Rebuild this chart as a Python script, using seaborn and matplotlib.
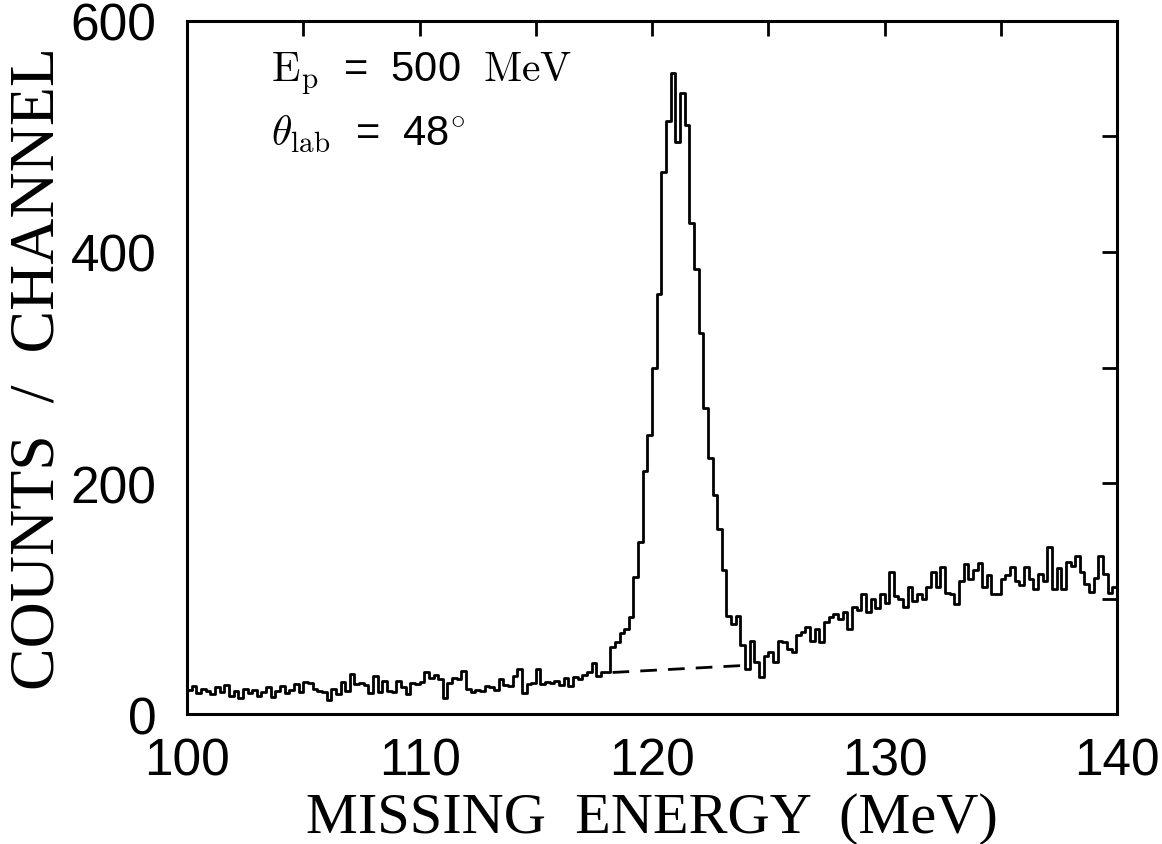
import numpy as np
import pandas as pd
import matplotlib
matplotlib.use("Agg")
import matplotlib.pyplot as plt
import seaborn as sns

# ---- data: counts per 0.2 MeV channel, 100-140 MeV ----
bin_start = 100.0
bin_width = 0.2
counts = [
    21, 24, 18, 22, 20,   # 100
    17, 23, 19, 25, 16,   # 101
    20, 14, 22, 18, 21,   # 102
    16, 19, 23, 15, 20,   # 103
    24, 18, 21, 26, 19,   # 104
    28, 27, 22, 20, 19,   # 105
    12, 22, 17, 28, 20,   # 106
    35, 26, 27, 25, 18,   # 107
    33, 19, 29, 20, 19,   # 108
    29, 23, 17, 27, 26,   # 109
    28, 36, 31, 34, 30,   # 110
    14, 27, 31, 30, 37,   # 111
    22, 19, 21, 20, 24,   # 112
    23, 21, 30, 25, 24,   # 113
    33, 39, 18, 26, 27,   # 114
    39, 26, 28, 27, 29,   # 115
    25, 31, 24, 32, 30,   # 116
    34, 36, 44, 33, 36,   # 117
    36, 58, 62, 70, 74,   # 118
    84, 119, 149, 210, 242,  # 119
    300, 364, 469, 513, 555,  # 120
    495, 538, 510, 425, 385,  # 121
    330, 265, 222, 190, 160,  # 122
    125, 85, 78, 85, 60,  # 123
    39, 63, 45, 32, 50,   # 124
    54, 45, 63, 62, 56,   # 125
    54, 68, 71, 75, 63,   # 126
    74, 62, 80, 84, 87,   # 127
    82, 88, 74, 93, 90,   # 128
    104, 88, 100, 92, 104,  # 129
    96, 123, 102, 100, 93,  # 130
    110, 98, 104, 100, 110,  # 131
    123, 110, 127, 105, 104,  # 132
    95, 115, 130, 117, 125,  # 133
    131, 110, 120, 104, 104,  # 134
    117, 120, 127, 115, 112,  # 135
    127, 117, 108, 121, 115,  # 136
    145, 108, 126, 108, 132,  # 137
    128, 137, 123, 113, 106,  # 138
    118, 137, 121, 105, 110,  # 139
]
background_x = [118.3, 123.9]
background_y = [36, 42]

x_ticks = [100, 105, 110, 115, 120, 125, 130, 135, 140]
x_labels = ["100", "", "110", "", "120", "", "130", "", "140"]
y_ticks = [0, 100, 200, 300, 400, 500, 600]
y_labels = ["0", "", "200", "", "400", "", "600"]

centers = bin_start + bin_width * (np.arange(len(counts)) + 0.5)
df = pd.DataFrame({"energy": centers, "counts": counts})
bin_end = bin_start + bin_width * len(counts)

sns.set_style("white")
plt.rcParams.update({
    "text.color": "black",
    "axes.labelcolor": "black",
    "xtick.color": "black",
    "ytick.color": "black",
    "axes.edgecolor": "black",
    "mathtext.fontset": "cm",
})

fig = plt.figure(figsize=(11.62, 8.45), dpi=100)
ax = fig.add_axes([0.161, 0.1538, 0.8003, 0.8202])

sns.histplot(data=df, x="energy", weights="counts", binwidth=bin_width,
             binrange=(bin_start, bin_end),
             element="step", fill=False, color="black", linewidth=2.0, ax=ax)
sns.lineplot(x=background_x, y=background_y, color="black", linewidth=2.0,
             ax=ax)
ax.lines[-1].set_dashes((6, 4))

ax.set_xlim(100, 140)
ax.set_ylim(0, 600)
ax.set_xticks(x_ticks)
ax.set_xticklabels(x_labels)
ax.set_yticks(y_ticks)
ax.set_yticklabels(y_labels)

for s in ax.spines.values():
    s.set_linewidth(2.2)
    s.set_color("black")

ax.tick_params(direction="in", length=11, width=2.0, top=True, right=True,
               colors="black")
ax.tick_params(axis="x", labelsize=37, pad=16)
ax.tick_params(axis="y", labelsize=37, pad=22)
for lab in ax.get_xticklabels() + ax.get_yticklabels():
    lab.set_family("Liberation Sans")

ax.set_xlabel("MISSING  ENERGY  (MeV)", family="Liberation Serif",
              fontsize=42, labelpad=5, color="black")
ax.set_ylabel("COUNTS  /  CHANNEL", family="Liberation Serif",
              fontsize=46, labelpad=2, color="black")

ax.text(103.6, 548, r"$\mathrm{E_p}$  =  500  $\mathrm{MeV}$",
        family="Liberation Sans", fontsize=30, ha="left", va="baseline")
ax.text(103.6, 493, r"$\theta_{\mathrm{lab}}$  =  48$^{\circ}$",
        family="Liberation Sans", fontsize=30, ha="left", va="baseline")

fig.savefig("out.png", dpi=100, facecolor="white")
